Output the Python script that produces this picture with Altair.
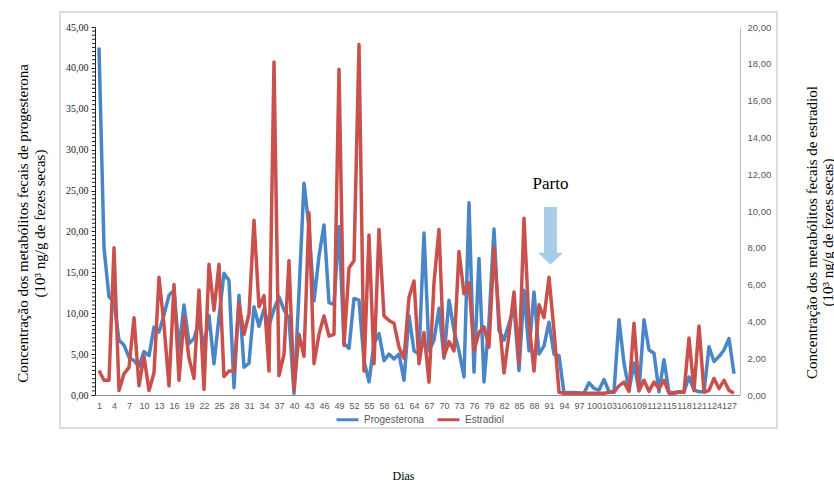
import altair as alt
import pandas as pd

# Fecal hormone metabolite concentrations by day
dias = list(range(1, 129))

progesterona = [
    42.5, 18.0, 12.0, 11.4, 6.7, 6.1, 4.6, 4.2, 3.5, 5.3,
    4.8, 8.3, 7.7, 9.8, 12.2, 12.8, 5.6, 11.0, 6.3, 6.9,
    9.0, 6.0, 9.7, 3.8, 9.5, 14.9, 14.0, 0.9, 12.2, 3.4,
    3.9, 10.8, 8.4, 10.5, 8.5, 10.5, 12.0, 10.4, 9.4, 0.2,
    12.5, 25.9, 20.5, 11.5, 17.0, 20.8, 11.3, 11.1, 20.6, 6.3,
    5.7, 11.8, 11.6, 4.2, 1.6, 6.3, 7.5, 4.2, 5.0, 4.4,
    5.0, 1.8, 9.7, 5.4, 5.0, 19.8, 5.4, 6.7, 10.6, 4.5,
    11.6, 7.9, 5.4, 2.2, 23.5, 2.8, 16.7, 1.6, 9.0, 20.3,
    7.9, 6.7, 8.7, 10.8, 3.0, 12.8, 5.4, 12.6, 5.0, 6.0,
    8.9, 5.0, 4.8, 0.25, 0.3, 0.3, 0.25, 0.2, 1.5, 0.8,
    0.6, 1.9, 0.4, 0.4, 9.2, 3.9, 0.6, 3.9, 0.5, 9.2,
    5.5, 5.1, 0.4, 4.3, 0.3, 0.3, 0.4, 0.4, 2.2, 0.6,
    0.4, 0.4, 5.9, 4.1, 4.7, 5.5, 6.9, 2.6,
]

estradiol = [
    1.33, 0.8, 0.8, 8.0, 0.25, 1.15, 1.5, 4.2, 0.5, 2.1,
    0.25, 1.2, 6.4, 3.8, 0.5, 6.0, 0.8, 4.2, 2.0, 0.9,
    5.7, 0.3, 7.1, 4.6, 7.1, 1.0, 1.3, 1.3, 5.0, 3.3,
    4.4, 9.5, 4.8, 5.4, 1.3, 18.1, 1.05, 2.2, 7.3, 0.25,
    3.3, 2.1, 9.9, 1.7, 3.3, 4.3, 3.2, 3.3, 17.7, 2.7,
    6.9, 7.3, 19.05, 1.3, 8.7, 1.7, 9.0, 4.3, 4.05, 3.9,
    2.6, 2.0, 5.3, 6.2, 1.7, 3.4, 0.7, 6.1, 9.0, 2.1,
    2.9, 2.4, 7.8, 5.5, 6.1, 2.4, 3.4, 3.7, 2.6, 8.0,
    4.2, 1.2, 3.3, 5.6, 1.7, 9.6, 3.9, 1.3, 4.9, 4.2,
    6.4, 3.5, 0.15, 0.1, 0.1, 0.1, 0.1, 0.1, 0.1, 0.1,
    0.1, 0.1, 0.15, 0.15, 0.5, 0.7, 0.2, 3.9, 0.25, 0.8,
    0.2, 0.7, 0.35, 0.8, 0.1, 0.1, 0.15, 0.15, 3.1, 0.25,
    3.75, 0.15, 0.25, 0.9, 0.35, 0.8, 0.25, 0.1,
]

rotulos_x = list(range(1, 128, 3))
ticks_esq = list(range(0, 46, 5))
ticks_menores = [i * 0.5 for i in range(91) if i % 10 != 0]
ticks_dir = list(range(0, 21, 2))

# "Parto" marker: day and left-axis levels of the arrow
parto_dia = 91.3
parto_topo = 23.0
parto_base = 17.3
parto_ponta = 16.66
parto_texto = 25.8

AZUL = "#4a86c5"
VERMELHO = "#c9514d"
SETA = "#a9cde9"
SERIF = "Liberation Serif"
SANS = "Liberation Sans"

df = pd.DataFrame({"Dia": dias, "Progesterona": progesterona, "Estradiol": estradiol})
um = pd.DataFrame({"k": [0]})

escala_x = alt.Scale(domain=[0.2, 129.2], nice=False, zero=False)
escala_esq = alt.Scale(domain=[0, 45], nice=False)
cores = alt.Scale(domain=["Progesterona", "Estradiol"], range=[AZUL, VERMELHO])
legenda = alt.Legend(
    orient="none", legendX=240, legendY=380, direction="horizontal", title=None,
    symbolType="stroke", symbolStrokeWidth=3, symbolSize=484,
    labelFont=SANS, labelFontSize=10, labelColor="#595959", columnPadding=6,
)
fmt = "replace(format(datum.value, '.2f'), '.', ',')"

# one axis definition per shared scale, reused by every layer on that scale
eixo_x = alt.Axis(
    values=rotulos_x, title="Dias", grid=False, labelOverlap=False, labelFlush=False,
    labelFont=SANS, labelFontSize=9, labelColor="#595959", labelPadding=6,
    ticks=False, domainColor="#8c8c8c",
    titleFont=SERIF, titleFontSize=12, titleFontWeight="normal", titleColor="#000000",
    titleX=308, titleY=84, titleBaseline="alphabetic",
)
eixo_esq = alt.Axis(
    values=ticks_esq, grid=False, labelOverlap=False, labelFlush=False,
    labelExpr=fmt, tickSize=4, tickColor="#222222", domainColor="#222222",
    labelFont=SERIF, labelFontSize=10, labelColor="#222222", labelPadding=3,
    title=["Concentração dos metabólitos fecais de progesterona",
           "(10³ ng/g de fezes secas)"],
    titleFont=SERIF, titleFontSize=15, titleFontWeight="normal", titleColor="#000000",
    titleX=-73, titleY=196, titleAngle=270, titleAlign="center",
    titleBaseline="middle", titleLineHeight=17,
)
eixo_dir = alt.Axis(
    orient="right", values=ticks_dir, grid=False, labelExpr=fmt,
    labelOverlap=False, labelFlush=False,
    ticks=False, domainColor="#bfbfbf",
    labelFont=SANS, labelFontSize=9.5, labelColor="#595959", labelPadding=7,
    title=["Concentração dos metabólitos fecais de estradiol",
           "(10³ ng/g de fezes secas)"],
    titleFont=SERIF, titleFontSize=15, titleFontWeight="normal", titleColor="#000000",
    titleX=71, titleY=205, titleAngle=270, titleAlign="center",
    titleBaseline="middle", titleLineHeight=16,
)

quadro = alt.Chart(um).mark_rect(
    fillOpacity=0, stroke="#d3d3d3", strokeWidth=1.5
).encode(
    x=alt.value(-35), x2=alt.value(682), y=alt.value(-15), y2=alt.value(401)
)

linha_p = alt.Chart(df).transform_calculate(serie="'Progesterona'").mark_line(
    strokeWidth=3.5, strokeJoin="round"
).encode(
    x=alt.X("Dia:Q", scale=escala_x, axis=eixo_x),
    y=alt.Y("Progesterona:Q", scale=escala_esq, axis=eixo_esq),
    color=alt.Color("serie:N", scale=cores, legend=legenda),
)

# minor tick marks on the left axis
menores = alt.Chart(pd.DataFrame({"v": ticks_menores})).mark_rule(
    color="#222222", strokeWidth=1
).encode(
    x=alt.value(-3), x2=alt.value(0),
    y=alt.Y("v:Q", scale=escala_esq, axis=eixo_esq),
)

seta_corpo = alt.Chart(um).mark_rule(
    color=SETA, strokeWidth=13, strokeCap="butt"
).encode(
    x=alt.XDatum(parto_dia, scale=escala_x, axis=eixo_x),
    y=alt.YDatum(parto_topo, scale=escala_esq, axis=eixo_esq),
    y2=alt.datum(parto_base),
)

seta_ponta = alt.Chart(um).mark_point(
    shape="M-1,-0.48 L1,-0.48 L0,0.48 Z", filled=True, color=SETA, opacity=1, size=625
).encode(
    x=alt.XDatum(parto_dia, scale=escala_x, axis=eixo_x),
    y=alt.YDatum(parto_ponta, scale=escala_esq, axis=eixo_esq),
)

rotulo_parto = alt.Chart(um).mark_text(
    text="Parto", font=SERIF, fontSize=17, color="#000000", baseline="middle", align="center"
).encode(
    x=alt.XDatum(parto_dia, scale=escala_x, axis=eixo_x),
    y=alt.YDatum(parto_texto, scale=escala_esq, axis=eixo_esq),
)

linha_e = alt.Chart(df).transform_calculate(serie="'Estradiol'").mark_line(
    strokeWidth=3.5, strokeJoin="round"
).encode(
    x=alt.X("Dia:Q", scale=escala_x, axis=eixo_x),
    y=alt.Y("Estradiol:Q", scale=alt.Scale(domain=[0, 20], nice=False), axis=eixo_dir),
    color=alt.Color("serie:N", scale=cores, legend=legenda),
)

esquerda = alt.layer(quadro, linha_p, menores, seta_corpo, seta_ponta, rotulo_parto)

chart = alt.layer(esquerda, linha_e).resolve_scale(y="independent").properties(
    width=645,
    height=368,
    autosize=alt.AutoSizeParams(type="none"),
    padding={"left": 95, "top": 27, "right": 94, "bottom": 87},
    background="white",
).configure_view(stroke=None)

chart.save("out.html", embed_options={"renderer": "svg", "actions": False})
